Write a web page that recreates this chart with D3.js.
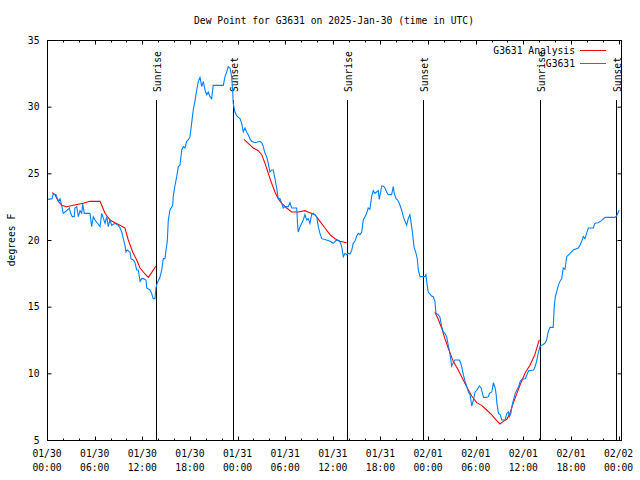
<!DOCTYPE html>
<html><head><meta charset="utf-8">
<script src="https://cdn.jsdelivr.net/npm/d3@7"></script>
<style>
html,body{margin:0;padding:0;background:#fff;}
svg text{font-family:"DejaVu Sans Mono",monospace;font-size:9.7px;fill:#000;}
</style></head>
<body><svg id="c" width="640" height="480"></svg>
<script>
// ---- data (hours since 2025-01-30 00:00 UTC) ----
const stationName = "G3631";
const obsHours = [0.13,0.63,0.79,1.13,1.43,1.64,1.85,2.05,2.27,2.48,2.81,2.98,3.18,3.43,3.52,3.74,3.95,4.16,4.37,4.50,4.70,5.41,5.63,5.83,6.04,6.68,6.89,7.31,7.52,7.72,7.93,8.15,8.56,8.98,9.20,9.41,9.61,9.82,9.95,10.11,10.45,10.58,10.87,11.08,11.30,11.50,11.72,11.93,12.13,12.47,12.56,12.97,13.18,13.38,13.60,13.72,13.90,14.23,14.45,14.65,14.86,14.99,15.15,15.28,15.49,15.83,15.90,16.12,16.34,16.54,16.75,16.97,17.17,17.38,17.59,17.79,18.01,18.22,18.42,18.63,18.86,19.06,19.27,19.49,19.69,19.90,20.11,20.31,20.53,20.74,20.94,22.21,22.42,22.63,22.83,23.05,23.26,23.38,23.46,23.67,23.90,24.31,24.52,24.72,24.94,25.15,25.35,25.56,25.78,26.19,26.83,27.04,27.24,27.46,27.67,27.87,28.08,28.30,28.50,28.71,28.93,29.13,29.35,29.56,29.76,29.97,30.39,30.60,30.82,31.45,31.58,31.65,31.87,32.08,32.28,32.49,32.71,32.91,33.12,33.33,33.53,33.97,34.17,34.38,34.60,35.22,35.64,36.05,36.49,36.90,37.12,37.32,37.53,37.74,37.94,38.16,38.37,38.57,38.78,39.01,39.21,39.42,39.64,39.84,40.05,40.26,40.46,40.67,40.89,41.09,41.30,41.52,41.73,41.85,42.03,42.15,42.36,42.57,42.78,42.98,43.41,43.61,43.74,43.96,44.17,44.37,44.67,44.88,45.09,45.30,45.50,45.71,45.84,46.05,46.22,46.48,46.64,46.77,46.98,47.19,47.61,47.73,47.89,48.02,48.15,48.44,48.65,48.86,48.99,49.28,49.50,49.71,49.91,50.12,50.34,50.54,50.75,50.97,51.17,51.38,51.64,51.94,52.09,52.24,52.44,52.66,52.87,53.08,53.29,53.50,53.71,53.92,54.14,54.47,54.68,54.98,55.31,55.60,55.73,56.03,56.23,56.44,56.58,56.67,56.87,57.08,57.29,57.71,57.92,58.12,58.25,58.43,58.55,58.76,58.97,59.19,59.40,59.61,59.82,60.24,60.45,60.66,61.28,61.45,61.67,61.87,62.09,62.30,62.72,62.93,63.13,63.35,63.76,63.89,64.03,64.20,64.40,64.62,64.83,65.03,65.25,65.46,65.88,66.28,66.92,67.13,67.35,67.55,67.76,67.97,68.18,68.60,68.81,69.01,69.40,69.86,70.28,71.54,71.75,72.08];
const obsDewF = [23.05,23.1,23.45,23.4,22.9,23.1,22.6,22.0,22.1,22.2,22.4,22.0,21.75,21.75,22.4,22.5,21.75,22.2,22.0,22.7,22.0,22.0,21.0,21.75,21.5,21.0,22.0,21.25,21.75,21.0,21.5,21.1,21.25,21.1,20.9,20.6,20.1,19.6,19.1,19.25,19.1,18.6,18.5,18.3,17.75,17.75,16.9,17.1,17.1,17.0,16.4,16.25,16.0,15.6,15.6,16.4,16.8,17.2,17.75,18.6,18.6,19.25,19.9,21.5,22.25,22.6,23.25,24.1,24.75,25.5,25.6,26.75,27.0,26.9,27.4,27.5,27.75,28.75,29.75,30.4,31.25,31.9,32.2,31.5,31.9,31.25,30.9,31.1,30.75,30.6,31.6,31.6,32.25,32.6,33.0,32.9,32.25,31.25,30.25,29.6,29.3,29.1,28.75,28.1,28.4,28.1,27.9,27.6,27.4,27.3,27.4,27.3,27.0,26.5,26.25,25.75,25.1,25.25,25.25,24.6,23.9,23.1,23.1,22.75,22.4,22.5,22.5,22.8,22.4,22.4,21.0,20.6,21.0,21.25,21.5,21.9,21.5,21.6,21.25,21.9,22.0,21.75,21.0,20.5,20.1,20.0,19.9,19.75,20.0,19.9,19.5,18.75,19.0,18.9,19.0,18.95,19.2,19.75,19.9,20.3,20.5,20.4,20.6,21.5,21.75,22.0,22.4,22.3,23.25,23.7,23.5,23.6,23.7,23.05,23.6,24.05,24.05,23.9,23.6,23.4,23.4,24.0,23.5,23.1,23.0,22.75,22.25,21.75,21.4,21.1,21.6,21.9,21.4,20.5,19.5,19.0,18.6,17.75,17.25,17.25,17.25,17.4,16.6,16.1,16.0,15.8,15.75,15.4,14.5,14.4,14.2,13.5,13.1,13.0,12.75,12.1,11.5,10.55,10.8,11.0,11.0,11.0,10.8,10.5,9.9,9.4,9.0,8.6,8.4,7.55,8.0,8.6,8.75,9.05,8.9,8.2,8.2,8.25,8.5,8.6,9.3,8.9,8.4,7.75,7.0,6.9,6.5,6.5,7.0,7.1,6.75,7.0,7.5,8.0,8.5,8.75,9.0,9.4,9.55,9.6,9.9,10.2,10.25,10.45,10.9,11.5,12.0,12.1,12.25,12.5,13.1,13.45,13.45,15.0,15.75,16.1,16.6,16.9,17.1,17.9,17.8,18.75,19.0,19.25,19.4,19.6,19.9,20.25,20.1,20.5,20.9,20.9,20.9,21.25,21.3,21.45,21.7,21.7,21.8,22.25];

const analysisHours1 = [0.63,1.00,1.43,1.85,2.48,3.31,4.57,5.41,6.68,7.31,7.93,8.56,9.20,9.82,10.24,10.79,11.30,11.72,12.34,12.76,13.18,13.72];
const analysisDew1   = [23.55,23.4,22.9,22.6,22.5,22.6,22.75,22.9,22.9,22.0,21.5,21.3,21.1,20.9,20.0,19.1,18.5,17.9,17.45,17.2,17.55,18.05];
const analysisHours2 = [24.81,25.35,25.98,26.62,27.04,27.46,27.87,28.30,28.71,29.13,29.56,30.19,30.82,31.65,32.49,33.12,33.75,34.38,35.01,35.64,36.27,36.90,37.74];
const analysisDew2   = [27.55,27.25,26.9,26.7,26.4,25.75,25.0,24.25,23.6,23.1,22.75,22.4,22.1,22.1,22.2,22.05,21.9,21.4,20.9,20.4,20.1,19.9,19.8];
const analysisHours3 = [48.86,49.28,49.71,50.12,50.54,51.17,51.80,52.23,52.86,53.49,54.12,54.75,55.38,56.00,56.64,57.06,57.47,57.92,58.31,58.72,59.19,59.57,60.20,60.83,61.45,62.00];
const analysisDew3   = [14.6,14.05,13.4,12.6,11.9,10.9,10.25,9.75,9.0,8.3,7.8,7.6,7.25,6.9,6.45,6.2,6.4,6.55,7.0,7.75,8.5,9.1,10.0,10.6,11.4,12.5];

const sunHours  = [13.77, 23.43, 37.85, 47.39, 62.09, 71.66];
const sunLabels = ["Sunrise","Sunset","Sunrise","Sunset","Sunrise","Sunset"];

const xMajorHours = [0,6,12,18,24,30,36,42,48,54,60,66,72];
const xDayLabels  = ["01/30","01/30","01/30","01/30","01/31","01/31","01/31","01/31","02/01","02/01","02/01","02/01","02/02"];
const xTimeLabels = ["00:00","06:00","12:00","18:00","00:00","06:00","12:00","18:00","00:00","06:00","12:00","18:00","00:00"];
const yTickValues = [5,10,15,20,25,30,35];
const xDomainEnd = 72.3;

const titleText = "Dew Point for G3631 on 2025-Jan-30 (time in UTC)";
const yLabelText = "degrees F";
const legendLabels = ["G3631 Analysis","G3631"];
const colors = {analysis:"#ff0000", obs:"#0080ff"};

// ---- layout ----
const L = 47, R = 621, T = 40, B = 440;
const svg = d3.select("#c");
const x = d3.scaleLinear().domain([0, xDomainEnd]).range([L, R]);
const y = d3.scaleLinear().domain([5, 35]).range([B, T]);

// title
svg.append("text").attr("x",(L+R)/2).attr("y",20).attr("text-anchor","middle")
  .attr("dominant-baseline","central").text(titleText);
// y label
svg.append("text").attr("transform",`translate(11,${(T+B)/2}) rotate(-90)`)
  .attr("text-anchor","middle").attr("dominant-baseline","central").text(yLabelText);

// axes (ticks inward, mirrored)
const minorHours = d3.range(0, xDomainEnd, 2).filter(h => h % 6 !== 0);
function xTicks(g, dir, len){ // dir: 1 = bottom axis (ticks up)
  g.selectAll(null).data(xMajorHours).enter().append("line")
    .attr("x1",d=>Math.round(x(d))+0.5).attr("x2",d=>Math.round(x(d))+0.5)
    .attr("y1",0).attr("y2",-dir*4).attr("stroke","#000");
  g.selectAll(null).data(minorHours).enter().append("line")
    .attr("x1",d=>Math.round(x(d))+0.5).attr("x2",d=>Math.round(x(d))+0.5)
    .attr("y1",0).attr("y2",-dir*2).attr("stroke","#000");
}
const gb = svg.append("g").attr("transform",`translate(0,${B+0.5})`); xTicks(gb,1);
const gt = svg.append("g").attr("transform",`translate(0,${T+0.5})`); xTicks(gt,-1);

const yAxisL = d3.axisLeft(y).tickValues(yTickValues).tickSize(-4).tickPadding(8).tickSizeOuter(0);
const gl = svg.append("g").attr("transform",`translate(${L+0.5},0)`).call(yAxisL);
gl.select(".domain").remove();
gl.selectAll("text").attr("font-family",null).attr("font-size",null);
const yAxisR = d3.axisRight(y).tickValues(yTickValues).tickSize(-4).tickFormat("").tickSizeOuter(0);
const gr = svg.append("g").attr("transform",`translate(${R+0.5},0)`).call(yAxisR);
gr.select(".domain").remove();

// x tick labels (two lines)
const xl = svg.append("g");
xl.selectAll(null).data(xMajorHours).enter().append("text")
  .attr("x",d=>x(d)).attr("y",453).attr("text-anchor","middle").attr("dominant-baseline","central")
  .text((d,i)=>xDayLabels[i]);
xl.selectAll(null).data(xMajorHours).enter().append("text")
  .attr("x",d=>x(d)).attr("y",467).attr("text-anchor","middle").attr("dominant-baseline","central")
  .text((d,i)=>xTimeLabels[i]);

// sunrise / sunset markers
const sg = svg.append("g");
sunHours.forEach((h,i)=>{
  const px = Math.round(x(h))+0.5;
  sg.append("line").attr("x1",px).attr("x2",px).attr("y1",100).attr("y2",B).attr("stroke","#000");
  sg.append("text").attr("transform",`translate(${px+0.5},92) rotate(-90)`)
    .attr("text-anchor","start").attr("dominant-baseline","central").text(sunLabels[i]);
});

// series
const line = d3.line().x(d=>x(d[0])).y(d=>y(d[1]));
[[analysisHours1,analysisDew1],[analysisHours2,analysisDew2],[analysisHours3,analysisDew3]].forEach(([hs,vs])=>{
  svg.append("path").datum(hs.map((h,i)=>[h,vs[i]])).attr("d",line)
    .attr("fill","none").attr("stroke",colors.analysis).attr("stroke-width",1.1);
});
svg.append("path").datum(obsHours.map((h,i)=>[h,obsDewF[i]])).attr("d",line)
  .attr("fill","none").attr("stroke",colors.obs).attr("stroke-width",1.1);

// frame
svg.append("rect").attr("x",L+0.5).attr("y",T+0.5).attr("width",R-L).attr("height",B-T)
  .attr("fill","none").attr("stroke","#000").attr("shape-rendering","crispEdges");

// legend
const lg = svg.append("g");
legendLabels.forEach((lab,i)=>{
  const ly = 50 + i*13;
  lg.append("text").attr("x",575).attr("y",ly).attr("text-anchor","end").attr("dominant-baseline","central").text(lab);
  lg.append("line").attr("x1",580).attr("x2",606).attr("y1",ly+0.5).attr("y2",ly+0.5)
    .attr("stroke", i===0?colors.analysis:colors.obs);
});
</script></body></html>
